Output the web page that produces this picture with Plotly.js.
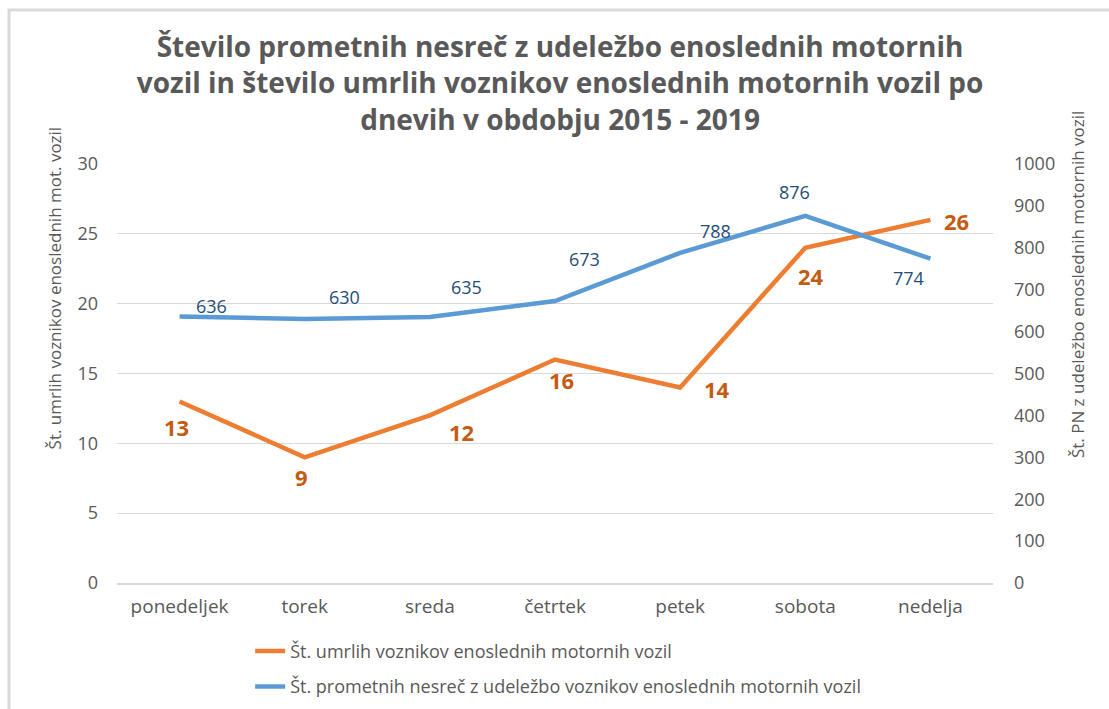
<!DOCTYPE html>
<html>
<head>
<meta charset="utf-8">
<script src="https://cdn.plot.ly/plotly-3.0.1.min.js"></script>
<style>
  html, body { margin: 0; padding: 0; background: #ffffff; }
  #chart { width: 1109px; height: 709px; }
</style>
</head>
<body>
<div id="chart"></div>
<script>
// ---- data ----
const days = ["ponedeljek", "torek", "sreda", "četrtek", "petek", "sobota", "nedelja"];
const deaths = [13, 9, 12, 16, 14, 24, 26];            // left axis
const accidents = [636, 630, 635, 673, 788, 876, 774];  // right axis

const seriesDeathsName = "Št. umrlih voznikov enoslednih motornih vozil";
const seriesAccidentsName = "Št. prometnih nesreč z udeležbo voznikov enoslednih motornih vozil";
const titleText = "Število prometnih nesreč z udeležbo enoslednih motornih<br>vozil in število umrlih voznikov enoslednih motornih vozil po<br>dnevih v obdobju 2015 - 2019";
const leftAxisTitle = "Št. umrlih voznikov enoslednih mot. vozil";
const rightAxisTitle = "Št. PN z udeležbo enoslednih motornih vozil";

// ---- label placement (style only, pixel offsets) ----
const deathLabelDx = [-3, -3, 32, 6, 37, 6, 26];
const deathLabelDy = [-26, -20, -17, -20, -2, -28, -1];
const accLabelDx = [32, 40, 37, 29, 35, -11, -22];
const accLabelDy = [11, 22, 30, 42, 22, 24, -19];

const FONT = "'Open Sans', 'DejaVu Sans', sans-serif";
const GRAY = "#595959";

const traces = [
  {
    x: days, y: deaths, type: "scatter", mode: "lines",
    name: seriesDeathsName, yaxis: "y", legendgroup: "a",
    line: { color: "#ED7D31", width: 4.5 },
    hoverinfo: "x+y"
  },
  {
    x: days, y: accidents, type: "scatter", mode: "lines",
    name: seriesAccidentsName, yaxis: "y2", legendgroup: "b",
    line: { color: "#5B9BD5", width: 4.5 },
    hoverinfo: "x+y"
  }
];

const annotations = [];
days.forEach((d, i) => {
  annotations.push({
    x: d, y: deaths[i], xref: "x", yref: "y", text: String(deaths[i]),
    showarrow: false, xshift: deathLabelDx[i], yshift: deathLabelDy[i],
    font: { family: FONT, size: 22, color: "#C55A11", weight: "bold" }
  });
  annotations.push({
    x: d, y: accidents[i], xref: "x", yref: "y2", text: String(accidents[i]),
    showarrow: false, xshift: accLabelDx[i], yshift: accLabelDy[i],
    font: { family: FONT, size: 18, color: "#1F4E79" }
  });
});
annotations.push({
  text: leftAxisTitle, xref: "paper", yref: "paper", x: -0.0715, y: 0.704,
  showarrow: false, textangle: -90, xanchor: "center", yanchor: "middle", xshift: 0,
  font: { family: FONT, size: 17, color: GRAY }
});
annotations.push({
  text: rightAxisTitle, xref: "paper", yref: "paper", x: 1.0959, y: 0.711,
  showarrow: false, textangle: -90, xanchor: "center", yanchor: "middle",
  font: { family: FONT, size: 17, color: GRAY }
});

const layout = {
  width: 1109, height: 709,
  margin: { l: 117, r: 116, t: 164, b: 126, pad: 0, autoexpand: false },
  paper_bgcolor: "#ffffff", plot_bgcolor: "#ffffff",
  font: { family: FONT, color: GRAY },
  title: {
    text: titleText,
    x: 0.505, xanchor: "center", y: 0.92, yanchor: "top",
    font: { family: FONT, size: 28, color: GRAY, weight: "bold" }
  },
  xaxis: {
    type: "category", range: [-0.5, 6.5], autorange: false,
    showgrid: false, zeroline: false,
    showline: true, linecolor: "#d9d9d9", linewidth: 2,
    ticks: "", ticklabelstandoff: 5,
    tickfont: { family: FONT, size: 19, color: GRAY }
  },
  yaxis: {
    range: [0, 30], dtick: 5, tick0: 0,
    showgrid: true, gridcolor: "#d9d9d9", gridwidth: 1,
    zeroline: false, showline: false, ticks: "",
    ticklabelstandoff: 18,
    tickfont: { family: FONT, size: 18, color: GRAY }
  },
  yaxis2: {
    range: [0, 1000], dtick: 100, tick0: 0,
    overlaying: "y", side: "right",
    showgrid: false, zeroline: false, showline: false, ticks: "",
    ticklabelstandoff: 20,
    tickfont: { family: FONT, size: 18, color: GRAY }
  },
  showlegend: true,
  legend: {
    orientation: "v", x: 0.152, xanchor: "left", y: -0.119, yanchor: "top",
    traceorder: "grouped", tracegroupgap: 9,
    bgcolor: "rgba(0,0,0,0)", borderwidth: 0,
    font: { family: FONT, size: 18, color: GRAY }
  },
  annotations: annotations,
  shapes: [{
    type: "rect", xref: "paper", yref: "paper",
    x0: (9 - 117) / 876, x1: 1.3, y0: -0.5, y1: (583 - 10) / 419,
    line: { color: "#d9d9d9", width: 3 }, fillcolor: "rgba(0,0,0,0)", layer: "below"
  }]
};

Plotly.newPlot("chart", traces, layout, { displayModeBar: false, responsive: false });
</script>
</body>
</html>
